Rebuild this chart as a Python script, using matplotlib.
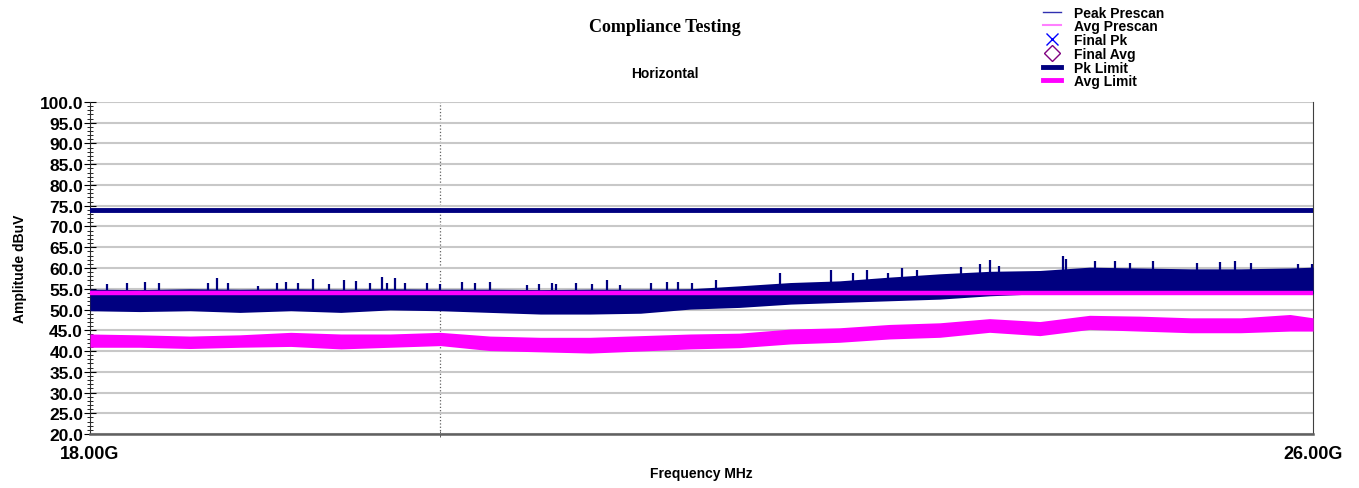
import matplotlib
matplotlib.use('Agg')
import numpy as np
import matplotlib.pyplot as plt
from matplotlib.lines import Line2D
from matplotlib.ticker import MultipleLocator, FixedLocator, NullFormatter

plt.rcParams['font.family'] = ['Liberation Sans', 'DejaVu Sans']
plt.rcParams['font.weight'] = 'bold'

# 频率采样点 (GHz) 以及从图中读取的包络值
freq_ghz = [18.00, 18.27, 18.55, 18.83, 19.12, 19.41, 19.70, 20.00, 20.30, 20.61, 20.92, 21.24, 21.56,
            21.88, 22.22, 22.55, 22.89, 23.24, 23.59, 23.95, 24.31, 24.68, 25.06, 25.44, 25.82, 26.00]
peak_low = [49.7, 49.5, 49.7, 49.3, 49.7, 49.3, 49.9, 49.7, 49.3, 48.9, 48.9, 49.1, 50.1,
            50.5, 51.3, 51.7, 52.1, 52.5, 53.3, 53.8, 53.8, 53.8, 53.8, 53.8, 53.8, 53.8]
peak_top = [54.9, 54.8, 55.0, 54.9, 55.0, 54.9, 55.0, 54.9, 54.9, 54.8, 54.9, 54.9, 55.0,
            55.7, 56.5, 56.9, 57.8, 58.6, 59.2, 59.4, 60.2, 60.0, 59.8, 59.8, 60.0, 60.2]
avg_low = [40.9, 40.9, 40.6, 40.9, 41.1, 40.5, 40.9, 41.3, 40.1, 39.8, 39.5, 40.0, 40.5,
           40.8, 41.7, 42.1, 42.9, 43.3, 44.5, 43.7, 45.2, 44.8, 44.4, 44.4, 44.8, 44.8]
avg_high = [44.1, 43.9, 43.6, 43.9, 44.5, 44.1, 44.1, 44.5, 43.6, 43.3, 43.3, 43.7, 44.1,
            44.3, 45.3, 45.6, 46.4, 46.8, 47.8, 47.1, 48.6, 48.4, 48.0, 48.0, 48.8, 48.0]

# 峰值扫描中突出的尖峰
spike_freq = [18.09, 18.20, 18.30, 18.38, 18.65, 18.70, 18.76, 18.93, 19.04, 19.09, 19.16, 19.25,
              19.34, 19.43, 19.50, 19.58, 19.65, 19.68, 19.73, 19.79, 19.92, 20.00, 20.13, 20.21,
              20.30, 20.53, 20.60, 20.68, 20.71, 20.83, 20.93, 21.03, 21.11, 21.31, 21.41, 21.48,
              21.57, 21.73, 22.15, 22.49, 22.64, 22.74, 22.88, 22.98, 23.08, 23.39, 23.52, 23.59,
              23.66, 24.12, 24.14, 24.35, 24.50, 24.61, 24.78, 25.11, 25.28, 25.40, 25.52, 25.88, 25.99]
spike_amp = [56.1, 56.5, 56.6, 56.3, 56.5, 57.6, 56.5, 55.7, 56.5, 56.7, 56.3, 57.3,
             56.1, 57.0, 56.9, 56.5, 57.8, 56.5, 57.5, 56.5, 56.3, 56.1, 56.7, 56.3,
             56.6, 55.9, 56.1, 56.5, 56.1, 56.3, 56.1, 57.0, 55.9, 56.3, 56.6, 56.6,
             56.3, 57.2, 58.8, 59.6, 58.8, 59.6, 58.8, 59.9, 59.4, 60.2, 61.0, 62.0,
             60.6, 62.8, 62.2, 61.8, 61.6, 61.3, 61.6, 61.3, 61.5, 61.8, 61.3, 61.0, 61.0]

pk_limit = 74.0
avg_limit = 54.0
final_pk_freq, final_pk_amp = [], []
final_avg_freq, final_avg_amp = [], []

navy = '#000080'
magenta = '#ff00ff'

fig = plt.figure(figsize=(13.59, 4.89), dpi=100)
ax = fig.add_axes([0.0662, 0.1104, 0.9000, 0.6790])

ax.fill_between(freq_ghz, peak_low, peak_top, color=navy, lw=0, zorder=3)
# 尖峰: 从包络顶部画到峰值
top_at_spike = np.interp(spike_freq, freq_ghz, peak_top)
ax.vlines(spike_freq, top_at_spike - 0.3, spike_amp, color=navy, lw=1.6, zorder=3)
ax.fill_between(freq_ghz, avg_low, avg_high, color=magenta, lw=0, zorder=3)

ax.plot(final_pk_freq, final_pk_amp, 'x', color='#0000ff')
ax.plot(final_avg_freq, final_avg_amp, 'D', mfc='none', mec='#800080')
ax.axhline(pk_limit, color=navy, lw=3.5, zorder=4)
ax.axhline(avg_limit, color=magenta, lw=3.2, zorder=4)

ax.set_xscale('log')
ax.xaxis.set_major_locator(FixedLocator([18.0, 26.0]))
ax.xaxis.set_minor_locator(FixedLocator([20.0]))
ax.xaxis.set_minor_formatter(NullFormatter())
ax.set_xticklabels(['18.00G', '26.00G'], fontsize=13, fontweight='bold')
ax.tick_params(axis='x', which='major', length=0, pad=8)
ax.tick_params(axis='x', which='minor', length=5, direction='inout', color='#404040')
ax.grid(axis='x', which='minor', color='#606060', ls=':', lw=0.9)

y_ticks = np.arange(20, 100.1, 5)
ax.set_yticks(y_ticks)
ax.set_yticklabels([f'{v:.1f}' for v in y_ticks], fontsize=12.5, fontweight='bold')
ax.yaxis.set_minor_locator(MultipleLocator(1))
ax.tick_params(axis='y', which='major', length=8, direction='inout', pad=1)
ax.tick_params(axis='y', which='minor', length=5, direction='inout')
ax.grid(axis='y', which='major', color='#c8c8c8', lw=1.5, zorder=0)
ax.set_axisbelow(True)
ax.set_xlim(18.0, 26.0)
ax.set_ylim(20, 100)

ax.spines['top'].set_visible(False)
ax.spines['left'].set_color('#303030')
ax.spines['bottom'].set_color('#606060')
ax.spines['bottom'].set_linewidth(1.8)
ax.spines['right'].set_color('#404040')

ax.set_ylabel('Amplitude dBuV', fontsize=10, fontweight='bold', labelpad=9)
ax.set_xlabel('Frequency MHz', fontsize=10, fontweight='bold', labelpad=3)

fig.text(665 / 1359, 1 - 28 / 489, 'Compliance Testing', ha='center', va='center',
         family='Liberation Serif', fontsize=13, fontweight='bold')
fig.text(665 / 1359, 1 - 74 / 489, 'Horizontal', ha='center', va='center', fontsize=10, fontweight='bold')

handles = [
    Line2D([], [], color='#3030b0', lw=1),
    Line2D([], [], color='#ff80ff', lw=1.5),
    Line2D([], [], color='#0000ff', marker='x', ls='none', ms=9),
    Line2D([], [], color='#800080', marker='D', mfc='none', ls='none', ms=8),
    Line2D([], [], color=navy, lw=3.5),
    Line2D([], [], color=magenta, lw=3.5),
]
labels = ['Peak Prescan', 'Avg Prescan', 'Final Pk', 'Final Avg', 'Pk Limit', 'Avg Limit']
fig.legend(handles, labels, loc='upper left', bbox_to_anchor=(1030 / 1359, 1.012), frameon=False,
           handlelength=1.3, handletextpad=1.0, labelspacing=-0.02, prop={'size': 10, 'weight': 'bold'})

fig.savefig('out.png', dpi=100)
